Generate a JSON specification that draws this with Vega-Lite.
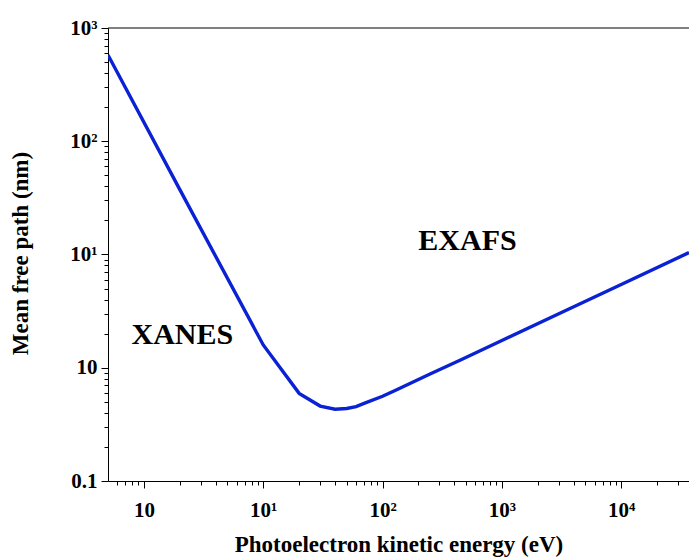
{
  "$schema": "https://vega.github.io/schema/vega-lite/v6.json",
  "width": 581,
  "height": 453,
  "autosize": {"type": "none"},
  "padding": {"left": 108, "top": 28, "right": 0, "bottom": 76},
  "background": "white",
  "config": {"view": {"stroke": null}, "font": "Liberation Serif"},
  "datasets": {
    "curve": [
      {"energy": 0.5, "mfp": 578},
      {"energy": 2, "mfp": 37.4},
      {"energy": 10, "mfp": 1.59},
      {"energy": 20, "mfp": 0.594},
      {"energy": 30, "mfp": 0.459},
      {"energy": 40, "mfp": 0.43},
      {"energy": 50, "mfp": 0.437},
      {"energy": 60, "mfp": 0.453},
      {"energy": 70, "mfp": 0.484},
      {"energy": 100, "mfp": 0.56},
      {"energy": 130, "mfp": 0.637},
      {"energy": 250, "mfp": 0.88},
      {"energy": 450, "mfp": 1.17},
      {"energy": 1000, "mfp": 1.74},
      {"energy": 3000, "mfp": 3.0},
      {"energy": 10000, "mfp": 5.43},
      {"energy": 37000, "mfp": 10.4}
    ],
    "regions": [
      {"energy": 2.1, "mfp": 1.62, "label": "XANES"},
      {"energy": 515, "mfp": 10.96, "label": "EXAFS"}
    ]
  },
  "layer": [
    {
      "data": {"name": "curve"},
      "mark": {"type": "line", "color": "#0b22d4", "strokeWidth": 3.4, "clip": true},
      "encoding": {
        "x": {
          "field": "energy",
          "type": "quantitative",
          "scale": {"type": "log", "domain": [0.5, 37000], "nice": false},
          "axis": {
            "values": [0.6, 0.7, 0.8, 0.9, 1, 2, 3, 4, 5, 6, 7, 8, 9, 10, 20, 30, 40, 50, 60, 70, 80, 90, 100, 200, 300, 400, 500, 600, 700, 800, 900, 1000, 2000, 3000, 4000, 5000, 6000, 7000, 8000, 9000, 10000, 20000, 30000],
            "labelExpr": "datum.value == 1 ? '10' : datum.value == 10 ? '10¹' : datum.value == 100 ? '10²' : datum.value == 1000 ? '10³' : datum.value == 10000 ? '10⁴' : ''",
            "tickSize": {"condition": {"test": "datum.value == 1 || datum.value == 10 || datum.value == 100 || datum.value == 1000 || datum.value == 10000", "value": 7}, "value": 4},
            "grid": false,
            "title": "Photoelectron kinetic energy (eV)",
            "titleX": 290.5,
            "titleY": 70.7,
            "titleBaseline": "alphabetic",
            "titleFont": "Liberation Serif",
            "titleFontSize": 23,
            "titleFontWeight": "bold",
            "titleColor": "black",
            "labelFont": "Liberation Serif",
            "labelFontSize": 21,
            "labelFontWeight": "bold",
            "labelColor": "black",
            "labelPadding": 11,
            "labelOverlap": false,
            "labelFlush": false,
            "labelBound": false,
            "domainColor": "black",
            "domainWidth": 1,
            "tickColor": "black",
            "tickWidth": 1
          }
        },
        "y": {
          "field": "mfp",
          "type": "quantitative",
          "scale": {"type": "log", "domain": [0.1, 1000], "nice": false},
          "axis": {
            "values": [0.1, 0.2, 0.3, 0.4, 0.5, 0.6, 0.7, 0.8, 0.9, 1, 2, 3, 4, 5, 6, 7, 8, 9, 10, 20, 30, 40, 50, 60, 70, 80, 90, 100, 200, 300, 400, 500, 600, 700, 800, 900, 1000],
            "labelExpr": "datum.value == 0.1 ? '0.1' : datum.value == 1 ? '10' : datum.value == 10 ? '10¹' : datum.value == 100 ? '10²' : datum.value == 1000 ? '10³' : ''",
            "tickSize": {"condition": {"test": "datum.value == 0.1 || datum.value == 1 || datum.value == 10 || datum.value == 100 || datum.value == 1000", "value": 7}, "value": 4},
            "grid": false,
            "title": "Mean free path (nm)",
            "titleX": -81,
            "titleY": 225,
            "titleBaseline": "alphabetic",
            "titleFont": "Liberation Serif",
            "titleFontSize": 23,
            "titleFontWeight": "bold",
            "titleColor": "black",
            "labelFont": "Liberation Serif",
            "labelFontSize": 21,
            "labelFontWeight": "bold",
            "labelColor": "black",
            "labelPadding": 4,
            "labelOverlap": false,
            "labelFlush": false,
            "labelBound": false,
            "domainColor": "black",
            "domainWidth": 1,
            "tickColor": "black",
            "tickWidth": 1
          }
        }
      }
    },
    {
      "data": {"name": "regions"},
      "mark": {"type": "text", "font": "Liberation Serif", "fontWeight": "bold", "fontSize": 30, "align": "center", "baseline": "alphabetic", "color": "black"},
      "encoding": {
        "x": {"field": "energy", "type": "quantitative"},
        "y": {"field": "mfp", "type": "quantitative"},
        "text": {"field": "label"}
      }
    },
    {
      "data": {"values": [{}]},
      "mark": {"type": "rule", "color": "black", "strokeWidth": 1},
      "encoding": {"y": {"datum": 1000}}
    }
  ]
}
